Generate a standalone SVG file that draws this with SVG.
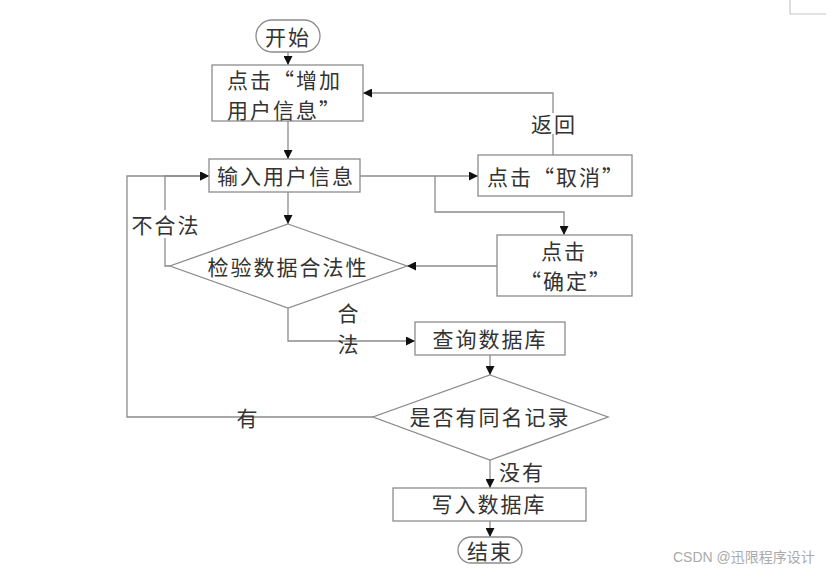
<svg xmlns="http://www.w3.org/2000/svg" width="834" height="575" viewBox="0 0 834 575">
<style>
.box{fill:#fff;stroke:#8c8c8c;stroke-width:1.3}
.ln{fill:none;stroke:#8c8c8c;stroke-width:1.3}
.t{font-family:"Noto Sans CJK SC","Liberation Serif",serif;font-size:21px;fill:#333;letter-spacing:2px;text-anchor:middle;dominant-baseline:central}
.ts{text-anchor:start}
.wm{font-family:"Liberation Sans","Noto Sans CJK SC",sans-serif;font-size:14px;fill:#aaa;dominant-baseline:central}
</style>
<defs>
<marker id="ah" markerUnits="userSpaceOnUse" markerWidth="9" markerHeight="9" refX="9" refY="4.5" orient="auto" viewBox="0 0 9 9">
<path d="M0,0 L9,4.5 L0,9 z" fill="#111"/>
</marker>
</defs>
<rect width="834" height="575" fill="#fff"/>
<path d="M790,0 V14 H826" fill="none" stroke="#c8c8c8" stroke-width="1.2"/>

<g id="connectors">
<path class="ln" d="M288,52 V65" marker-end="url(#ah)"/>
<path class="ln" d="M288,121 V159" marker-end="url(#ah)"/>
<path class="ln" d="M553,155 V134 M553,113 V93 H363" marker-end="url(#ah)"/>
<path class="ln" d="M360,176 H478" marker-end="url(#ah)"/>
<path class="ln" d="M435,176 V212 H564 V235" marker-end="url(#ah)"/>
<path class="ln" d="M497,266 H407" marker-end="url(#ah)"/>
<path class="ln" d="M288,192 V224" marker-end="url(#ah)"/>
<path class="ln" d="M170,266 H165 V176 H209" marker-end="url(#ah)"/>
<path class="ln" d="M288,308 V341 H415" marker-end="url(#ah)"/>
<path class="ln" d="M490,355 V375" marker-end="url(#ah)"/>
<path class="ln" d="M373,417 H127 V176 H209" marker-end="url(#ah)"/>
<path class="ln" d="M490,460 V488" marker-end="url(#ah)"/>
<path class="ln" d="M490,521 V537" marker-end="url(#ah)"/>
</g>

<g id="start">
<rect class="box" x="256" y="20" width="64" height="32" rx="16"/>
<text class="t" x="288" y="36">开始</text>
</g>
<g id="click-add">
<rect class="box" x="212" y="65" width="151" height="56"/>
<text class="t ts" x="227" y="79">点击“增加</text>
<text class="t ts" x="227" y="109">用户信息”</text>
</g>
<g id="input-info">
<rect class="box" x="209" y="159" width="151" height="33"/>
<text class="t" x="286" y="175">输入用户信息</text>
</g>
<g id="click-cancel">
<rect class="box" x="478" y="155" width="154" height="41"/>
<text class="t" x="556" y="176">点击“取消”</text>
</g>
<g id="click-confirm">
<rect class="box" x="497" y="235" width="135" height="61"/>
<text class="t" x="564" y="250">点击</text>
<text class="t" x="566" y="280">“确定”</text>
</g>
<g id="validate">
<polygon class="box" points="288,224 407,266 288,308 170,266"/>
<text class="t" x="288" y="266">检验数据合法性</text>
</g>
<g id="query-db">
<rect class="box" x="415" y="322" width="150" height="33"/>
<text class="t" x="490" y="338">查询数据库</text>
</g>
<g id="same-name">
<polygon class="box" points="490,375 608,417 490,460 373,417"/>
<text class="t" x="490" y="416">是否有同名记录</text>
</g>
<g id="write-db">
<rect class="box" x="393" y="488" width="193" height="33"/>
<text class="t" x="489" y="503">写入数据库</text>
</g>
<g id="end">
<rect class="box" x="458" y="537" width="64" height="26" rx="13"/>
<text class="t" x="490" y="550">结束</text>
</g>

<g id="labels">
<rect x="128" y="210" width="74" height="28" fill="#fff"/>
<text class="t" x="166" y="224">不合法</text>
<text class="t" x="554" y="123">返回</text>
<text class="t" x="349" y="312">合</text>
<text class="t" x="349" y="343">法</text>
<text class="t" x="248" y="417">有</text>
<text class="t" x="522" y="471">没有</text>
</g>
<text class="wm" x="673" y="557">CSDN @迅限程序设计</text>
</svg>
